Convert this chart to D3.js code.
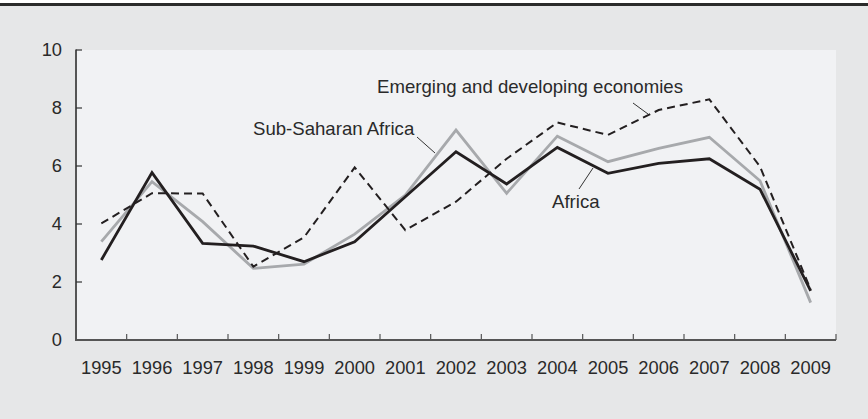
<!DOCTYPE html>
<html>
<head>
<meta charset="utf-8">
<script src="https://cdn.jsdelivr.net/npm/d3@7/dist/d3.min.js"></script>
<style>
  html, body { margin: 0; padding: 0; background: #ffffff; }
  svg { display: block; }
  text { font-family: "Liberation Sans", Arial, sans-serif; fill: #2a2a2a; }
</style>
</head>
<body>
<svg id="chart" width="868" height="419"></svg>
<script>
const years = ["1995","1996","1997","1998","1999","2000","2001","2002","2003","2004","2005","2006","2007","2008","2009"];
const africa = [2.76, 5.77, 3.33, 3.24, 2.70, 3.39, 4.94, 6.49, 5.38, 6.64, 5.75, 6.09, 6.25, 5.20, 1.69];
const subSaharan = [3.39, 5.46, 4.08, 2.47, 2.62, 3.65, 5.00, 7.24, 5.06, 7.03, 6.15, 6.61, 6.99, 5.49, 1.29];
const emerging = [4.02, 5.06, 5.05, 2.53, 3.54, 5.95, 3.79, 4.77, 6.25, 7.50, 7.07, 7.93, 8.30, 5.98, 1.74];
const yTicks = [0, 2, 4, 6, 8, 10];
const labels = [
  { text: "Emerging and developing economies", year: "2005", value: 7.07 },
  { text: "Sub-Saharan Africa", year: "2002", value: 7.24 },
  { text: "Africa", year: "2004", value: 6.64 }
];

(function () {
const W = 868, H = 419;
const svg = d3.select("#chart");
const mLeft = 76, mRight = 836, mTop = 50, mBottom = 340;

// background
svg.append("rect").attr("x", 0).attr("y", 0).attr("width", W).attr("height", H).attr("fill", "#e6e7e8");
svg.append("rect").attr("x", 0).attr("y", 0).attr("width", W).attr("height", 3).attr("fill", "#ffffff");
svg.append("rect").attr("x", 0).attr("y", 3).attr("width", W).attr("height", 3).attr("fill", "#2b2b2b");

const x = d3.scaleBand().domain(years).range([mLeft, mRight]).paddingInner(0).paddingOuter(0);
const y = d3.scaleLinear().domain([0, 10]).range([mBottom, mTop]);

// plot area
svg.append("rect").attr("x", mLeft).attr("y", mTop).attr("width", mRight - mLeft).attr("height", mBottom - mTop).attr("fill", "#f1f2f4");

// x axis ticks at band boundaries
const bounds = years.map(d => x(d)).concat([mRight]);
svg.append("g").selectAll("line").data(bounds.slice(1)).join("line")
  .attr("x1", d => d).attr("x2", d => d).attr("y1", mBottom).attr("y2", mBottom - 6)
  .attr("stroke", "#555").attr("stroke-width", 1.2);
svg.append("line").attr("x1", mLeft).attr("x2", mRight).attr("y1", mBottom).attr("y2", mBottom)
  .attr("stroke", "#555").attr("stroke-width", 2);
svg.append("g").selectAll("text").data(years).join("text")
  .attr("x", d => x(d) + x.bandwidth() / 2).attr("y", 374)
  .attr("text-anchor", "middle").attr("font-size", 18.3).text(d => d);

// y axis
svg.append("line").attr("x1", mLeft).attr("x2", mLeft).attr("y1", mTop - 0.5).attr("y2", mBottom + 1)
  .attr("stroke", "#555").attr("stroke-width", 2);
svg.append("g").selectAll("line").data(yTicks.filter(d => d > 0)).join("line")
  .attr("x1", mLeft).attr("x2", mLeft + 6).attr("y1", d => y(d)).attr("y2", d => y(d))
  .attr("stroke", "#333").attr("stroke-width", 1.2);
svg.append("g").selectAll("text").data(yTicks).join("text")
  .attr("x", 62).attr("y", d => y(d)).attr("dy", "0.35em")
  .attr("text-anchor", "end").attr("font-size", 18.3).text(d => d);

const line = d3.line().x((d, i) => x(years[i]) + x.bandwidth() / 2).y(d => y(d));

svg.append("path").datum(subSaharan).attr("d", line).attr("fill", "none")
  .attr("stroke", "#a7a9ac").attr("stroke-width", 2.8).attr("stroke-linejoin", "miter");
svg.append("path").datum(africa).attr("d", line).attr("fill", "none")
  .attr("stroke", "#231f20").attr("stroke-width", 2.8).attr("stroke-linejoin", "miter");
svg.append("path").datum(emerging).attr("d", line).attr("fill", "none")
  .attr("stroke", "#231f20").attr("stroke-width", 2).attr("stroke-dasharray", "8,5");

// annotations
svg.append("text").attr("x", 377).attr("y", 93).attr("font-size", 18.6).text(labels[0].text);
svg.append("line").attr("x1", 633).attr("y1", 103).attr("x2", 648).attr("y2", 114).attr("stroke", "#333").attr("stroke-width", 1);

svg.append("text").attr("x", 253).attr("y", 135).attr("font-size", 18.6).text(labels[1].text);
svg.append("line").attr("x1", 417).attr("y1", 137).attr("x2", 435).attr("y2", 153).attr("stroke", "#333").attr("stroke-width", 1);

svg.append("text").attr("x", 552).attr("y", 207.5).attr("font-size", 18.6).text(labels[2].text);
svg.append("line").attr("x1", 579).attr("y1", 189).attr("x2", 593).attr("y2", 168).attr("stroke", "#333").attr("stroke-width", 1);
})();
</script>
</body>
</html>
